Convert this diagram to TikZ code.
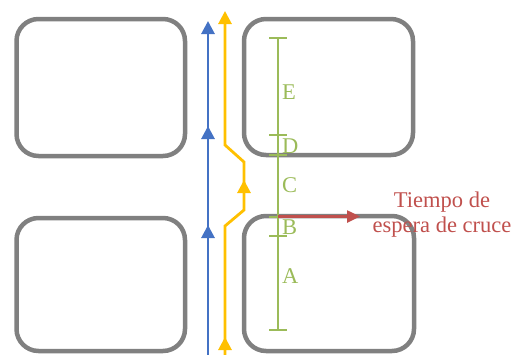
\documentclass[tikz,border=0pt]{standalone}
\usepackage{fontspec}
\setmainfont{Liberation Serif}
\usetikzlibrary{arrows.meta}
\definecolor{boxgray}{RGB}{128,128,128}
\definecolor{lblue}{RGB}{68,114,196}
\definecolor{lyellow}{RGB}{255,192,0}
\definecolor{lgreen}{RGB}{155,187,89}
\definecolor{lred}{RGB}{192,80,77}
\begin{document}
\begin{tikzpicture}[x=1pt,y=-1pt,
  block/.style={draw=boxgray,line width=4.5pt,rounded corners=22pt},
  bluel/.style={draw=lblue,line width=2.8pt},
  yell/.style={draw=lyellow,line width=2.8pt},
  tip/.style={-{Triangle[width=13pt,length=13pt]}},
  greenl/.style={draw=lgreen,line width=1.3pt},
  seglabel/.style={text=lgreen,font=\fontsize{22.5}{25}\selectfont,anchor=west,inner sep=0pt},
  redtext/.style={text=lred,font=\fontsize{22.5}{25}\selectfont,align=center,inner sep=0pt}]
\useasboundingbox (0,0) rectangle (514,354);
% blocks
\draw[block] (16.5,19) rectangle (185,156);
\draw[block] (244,19) rectangle (413,155);
\draw[block] (16.5,218) rectangle (185,351);
\draw[block] (244,216) rectangle (414,351);
% blue line
\coordinate (b0) at (208,356);
\coordinate (b1) at (208,21);
\draw[bluel,tip] (b0) -- (b1);
\draw[bluel,tip] (208,140) -- (208,126);
\draw[bluel,tip] (208,240) -- (208,225);
% yellow line
\coordinate (y0) at (225,356);
\coordinate (y1) at (225,226);
\coordinate (y2) at (244,210);
\coordinate (y3) at (244,162);
\coordinate (y4) at (225,145);
\coordinate (y5) at (225,11);
\draw[yell,tip] (y0) -- (y1) -- (y2) -- (y3) -- (y4) -- (y5);
\draw[yell,tip] (225,356) -- (225,337);
\draw[yell,tip] (244,196) -- (244,180);
% green scale
\coordinate (g0) at (278,38);
\coordinate (g5) at (278,330);
\draw[greenl] (g0) -- (g5);
\foreach \yy in {38,135,155,217,236,330}
  \draw[greenl] (269,\yy) -- (287,\yy);
\node[seglabel] (E) at (282,92) {E};
\node[seglabel] (D) at (282,146) {D};
\node[seglabel] (C) at (282,185) {C};
\node[seglabel] (B) at (282,227) {B};
\node[seglabel] (A) at (282,276) {A};
% red arrow
\coordinate (r0) at (278,216.5);
\coordinate (r1) at (360,216.5);
\draw[draw=lred,line width=2.5pt,-{Triangle[width=12pt,length=13pt]}] (r0) -- (r1);
\node[redtext] (t) at (442,215) {Tiempo de\\espera de cruce};
\end{tikzpicture}
\end{document}
